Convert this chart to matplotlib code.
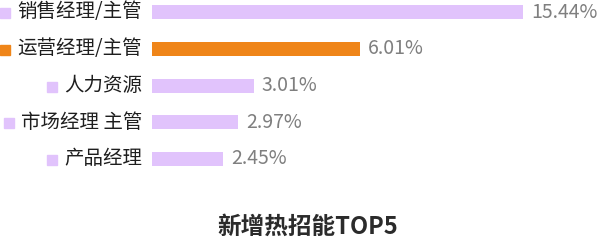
import matplotlib
matplotlib.use('Agg')
import matplotlib.pyplot as plt
from matplotlib.patches import Rectangle

plt.rcParams['font.family'] = ['Noto Sans CJK SC', 'DejaVu Sans']

# Categories, top to bottom
categories = ['销售经理/主管', '运营经理/主管', '人力资源', '市场经理 主管', '产品经理']
# Value labels as printed next to each bar
value_labels = ['15.44%', '6.01%', '3.01%', '2.97%', '2.45%']
# Bar lengths as drawn in the picture (not proportional to the printed labels)
bar_lengths = [15.44, 8.66, 4.24, 3.58, 2.95]
highlight = 1

PURPLE = '#e1c3fc'
ORANGE = '#ef8519'

W, H = 600, 242
fig = plt.figure(figsize=(W / 100, H / 100), dpi=100)
px_per_unit = 371 / 15.44
row_px = 36.75

ax = fig.add_axes([152 / W, 0, 1 - 152 / W, 1])
ax.set_xlim(0, (W - 152) / px_per_unit)
ax.set_ylim((H - 12) / row_px, -12 / row_px)
ax.axis('off')

colors = [ORANGE if i == highlight else PURPLE for i in range(len(categories))]
ypos = list(range(len(categories)))
ax.barh(ypos, bar_lengths, height=14 / row_px, color=colors, left=0)

texts = []
for i, (cat, lab, val) in enumerate(zip(categories, value_labels, bar_lengths)):
    t = ax.annotate(cat, xy=(0, i), xytext=(-10, 0), textcoords='offset pixels',
                    ha='right', va='center', fontsize=14, color='#1e1e1e')
    texts.append(t)
    ax.annotate(lab, xy=(val, i), xytext=(8, 0), textcoords='offset pixels',
                ha='left', va='center', fontsize=14, color='#7f7f7f')

fig.canvas.draw()
renderer = fig.canvas.get_renderer()
for i, t in enumerate(texts):
    bb = t.get_window_extent(renderer)
    cy = ax.transData.transform((0, i))[1]
    size = 10
    x0 = bb.x0 - 7 - size
    fig.patches.append(Rectangle((x0, cy - size / 2 - 1), size, size,
                                 transform=None, color=colors[i]))

fig.text(308 / W, 1 - 227 / H, '新增热招能TOP5', ha='center', va='center',
         fontsize=17, fontweight='bold', color='#2b2b2b')

fig.savefig('out.png', dpi=100)
